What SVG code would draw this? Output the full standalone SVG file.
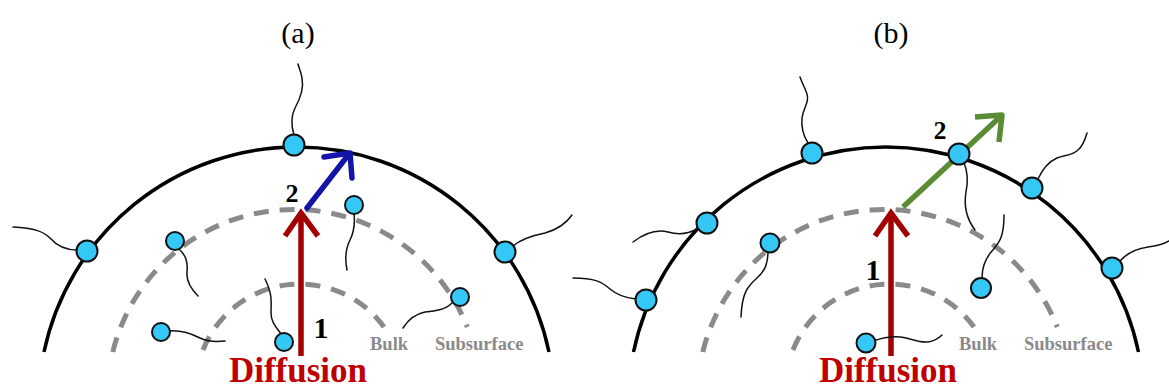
<svg xmlns="http://www.w3.org/2000/svg" width="1169" height="390" viewBox="0 0 1169 390">
  <style>
    .membrane { fill: none; stroke: #000; stroke-width: 3.5; }
    .layer { fill: none; stroke: #8a8a8a; stroke-width: 5; stroke-dasharray: 15 11; }
    .tail { fill: none; stroke: #111; stroke-width: 1.5; stroke-linecap: round; }
    .head { fill: #35c8f6; stroke: #111; stroke-width: 2; }
    .diff { fill: none; stroke: #a30000; stroke-width: 5.5; }
    .adsorb { fill: none; stroke: #1414a8; stroke-width: 5.5; stroke-linecap: round; stroke-linejoin: round; }
    .pass { fill: none; stroke: #5a8c34; stroke-width: 5.5; stroke-linejoin: round; }
    .panel { font-family: "Liberation Serif", "Times New Roman", serif; font-size: 30px; fill: #000; text-anchor: middle; }
    .step { font-family: "Liberation Serif", "Times New Roman", serif; font-weight: bold; fill: #000; text-anchor: middle; }
    .zone { font-family: "Liberation Serif", "Times New Roman", serif; font-weight: bold; font-size: 18.5px; fill: #8a8a8a; }
    .title { font-family: "Liberation Serif", "Times New Roman", serif; font-weight: bold; font-size: 35px; fill: #bf0000; text-anchor: middle; }
  </style>

  <!-- Panel (a) -->
  <g id="panel-a">
    <text class="panel" x="298" y="43">(a)</text>
    <g id="a-layers">
      <path class="layer" d="M203,350 A104,104 0 0 1 384,327"/>
      <path class="layer" d="M112.8,352 A186.5,186.5 0 0 1 467.3,327"/>
      <path class="membrane" d="M44,352 A258,258 0 0 1 549,352"/>
    </g>
    <text class="zone" x="370" y="350">Bulk</text>
    <text class="zone" x="435" y="350">Subsurface</text>
  </g>

  <!-- Panel (b) -->
  <g id="panel-b">
    <text class="panel" x="891" y="43">(b)</text>
    <g id="b-layers">
      <path class="layer" d="M793,350 A104,104 0 0 1 974,327"/>
      <path class="layer" d="M702.8,352 A186.5,186.5 0 0 1 1057.3,327"/>
      <path class="membrane" d="M633.5,352 A258,258 0 0 1 1138.5,352"/>
    </g>
    <text class="zone" x="959" y="350">Bulk</text>
    <text class="zone" x="1024" y="350">Subsurface</text>
  </g>

  <!-- Transport steps -->
  <g id="connectors">
    <g id="a-diffusion">
      <path class="diff" d="M301,356 V214"/>
      <path class="diff" d="M285,236 L301,213 L318,236"/>
    </g>
    <g id="a-adsorption">
      <path class="adsorb" d="M307,208 L349,154"/>
      <path class="adsorb" d="M324,157 L350,153 L352,178"/>
    </g>
    <g id="b-diffusion">
      <path class="diff" d="M891,356 V214"/>
      <path class="diff" d="M875,236 L891,213 L908,236"/>
    </g>
    <g id="b-adsorption">
      <path class="pass" d="M903,207 L1000,117"/>
      <path class="pass" d="M975,117 L1002,115 L999,142"/>
    </g>
  </g>

  <!-- Surfactant molecules, panel (a) -->
  <g id="a-s1"><path class="tail" d="M294,135 C291,125 291,116 295,108 C300,99 304,88 302,78 C301,72 299,68 298,64"/><circle class="head" cx="294" cy="145" r="10.5"/></g>
  <g id="a-s2"><path class="tail" d="M77,250 C65,250 57,246 50,238 C44,232 35,228 13,227"/><circle class="head" cx="87" cy="251" r="10.5"/></g>
  <g id="a-s3"><path class="tail" d="M513,246 C520,240 530,236 545,233 C556,230 565,225 572,215"/><circle class="head" cx="505" cy="252" r="10.5"/></g>
  <g id="a-s4"><path class="tail" d="M178,248 C186,255 188,262 187,272 C186,282 192,290 198,296"/><circle class="head" cx="175" cy="241" r="9"/></g>
  <g id="a-s5"><path class="tail" d="M169,331 C180,330 190,333 200,338 C208,342 216,342 225,341"/><circle class="head" cx="161" cy="332" r="9"/></g>
  <g id="a-s6"><path class="tail" d="M281,334 C276,327 271,322 271,313 C271,303 273,295 265,279"/><circle class="head" cx="284" cy="342" r="9"/></g>
  <g id="a-s7"><path class="tail" d="M354,213 C355,222 354,232 350,240 C345,250 345,260 347,270"/><circle class="head" cx="354" cy="205" r="9"/></g>
  <g id="a-s8"><path class="tail" d="M452,303 C445,310 435,311 425,312 C415,314 408,320 403,328"/><circle class="head" cx="460" cy="297" r="9"/></g>

  <!-- Surfactant molecules, panel (b) -->
  <g id="b-s1"><path class="tail" d="M808,143 C803,135 801,128 802,118 C803,108 810,102 807,94 C805,88 802,83 800,77"/><circle class="head" cx="812" cy="153" r="10.5"/></g>
  <g id="b-s2"><path class="tail" d="M697,229 C688,234 678,235 668,232 C656,229 645,233 633,242"/><circle class="head" cx="707" cy="223" r="10.5"/></g>
  <g id="b-s3"><path class="tail" d="M636,299 C626,298 617,295 610,289 C602,282 595,278 573,278"/><circle class="head" cx="646" cy="300" r="10.5"/></g>
  <g id="b-s4"><path class="tail" d="M768,251 C768,262 766,270 757,278 C748,286 742,292 741,317"/><circle class="head" cx="770" cy="243" r="9.5"/></g>
  <g id="b-s5"><path class="tail" d="M873,341 C882,338 890,336 900,337 C910,338 918,343 928,342 C935,341 939,338 942,335"/><circle class="head" cx="866" cy="343" r="9.5"/></g>
  <g id="b-s6"><path class="tail" d="M982,278 C982,268 984,260 992,251 C1000,242 1004,236 1004,215"/><circle class="head" cx="981" cy="288" r="10"/></g>
  <g id="b-s7"><path class="tail" d="M964,163 C968,172 968,182 966,192 C964,204 966,218 975,230"/><circle class="head" cx="959" cy="154" r="10.5"/></g>
  <g id="b-s8"><path class="tail" d="M1038,179 C1042,170 1048,162 1057,158 C1064,155 1072,156 1078,150 C1083,146 1085,140 1087,133"/><circle class="head" cx="1032" cy="188" r="10.5"/></g>
  <g id="b-s9"><path class="tail" d="M1120,261 C1127,253 1135,249 1148,247 C1158,246 1164,244 1169,241"/><circle class="head" cx="1112" cy="268" r="10.5"/></g>

  <!-- Step labels -->
  <g id="labels">
    <text class="step" x="292" y="202" font-size="26">2</text>
    <text class="step" x="321" y="338" font-size="30">1</text>
    <text class="step" x="940" y="139" font-size="26">2</text>
    <text class="step" x="873" y="280" font-size="30">1</text>
    <text class="title" x="298" y="382">Diffusion</text>
    <text class="title" x="888" y="382">Diffusion</text>
  </g>
</svg>
